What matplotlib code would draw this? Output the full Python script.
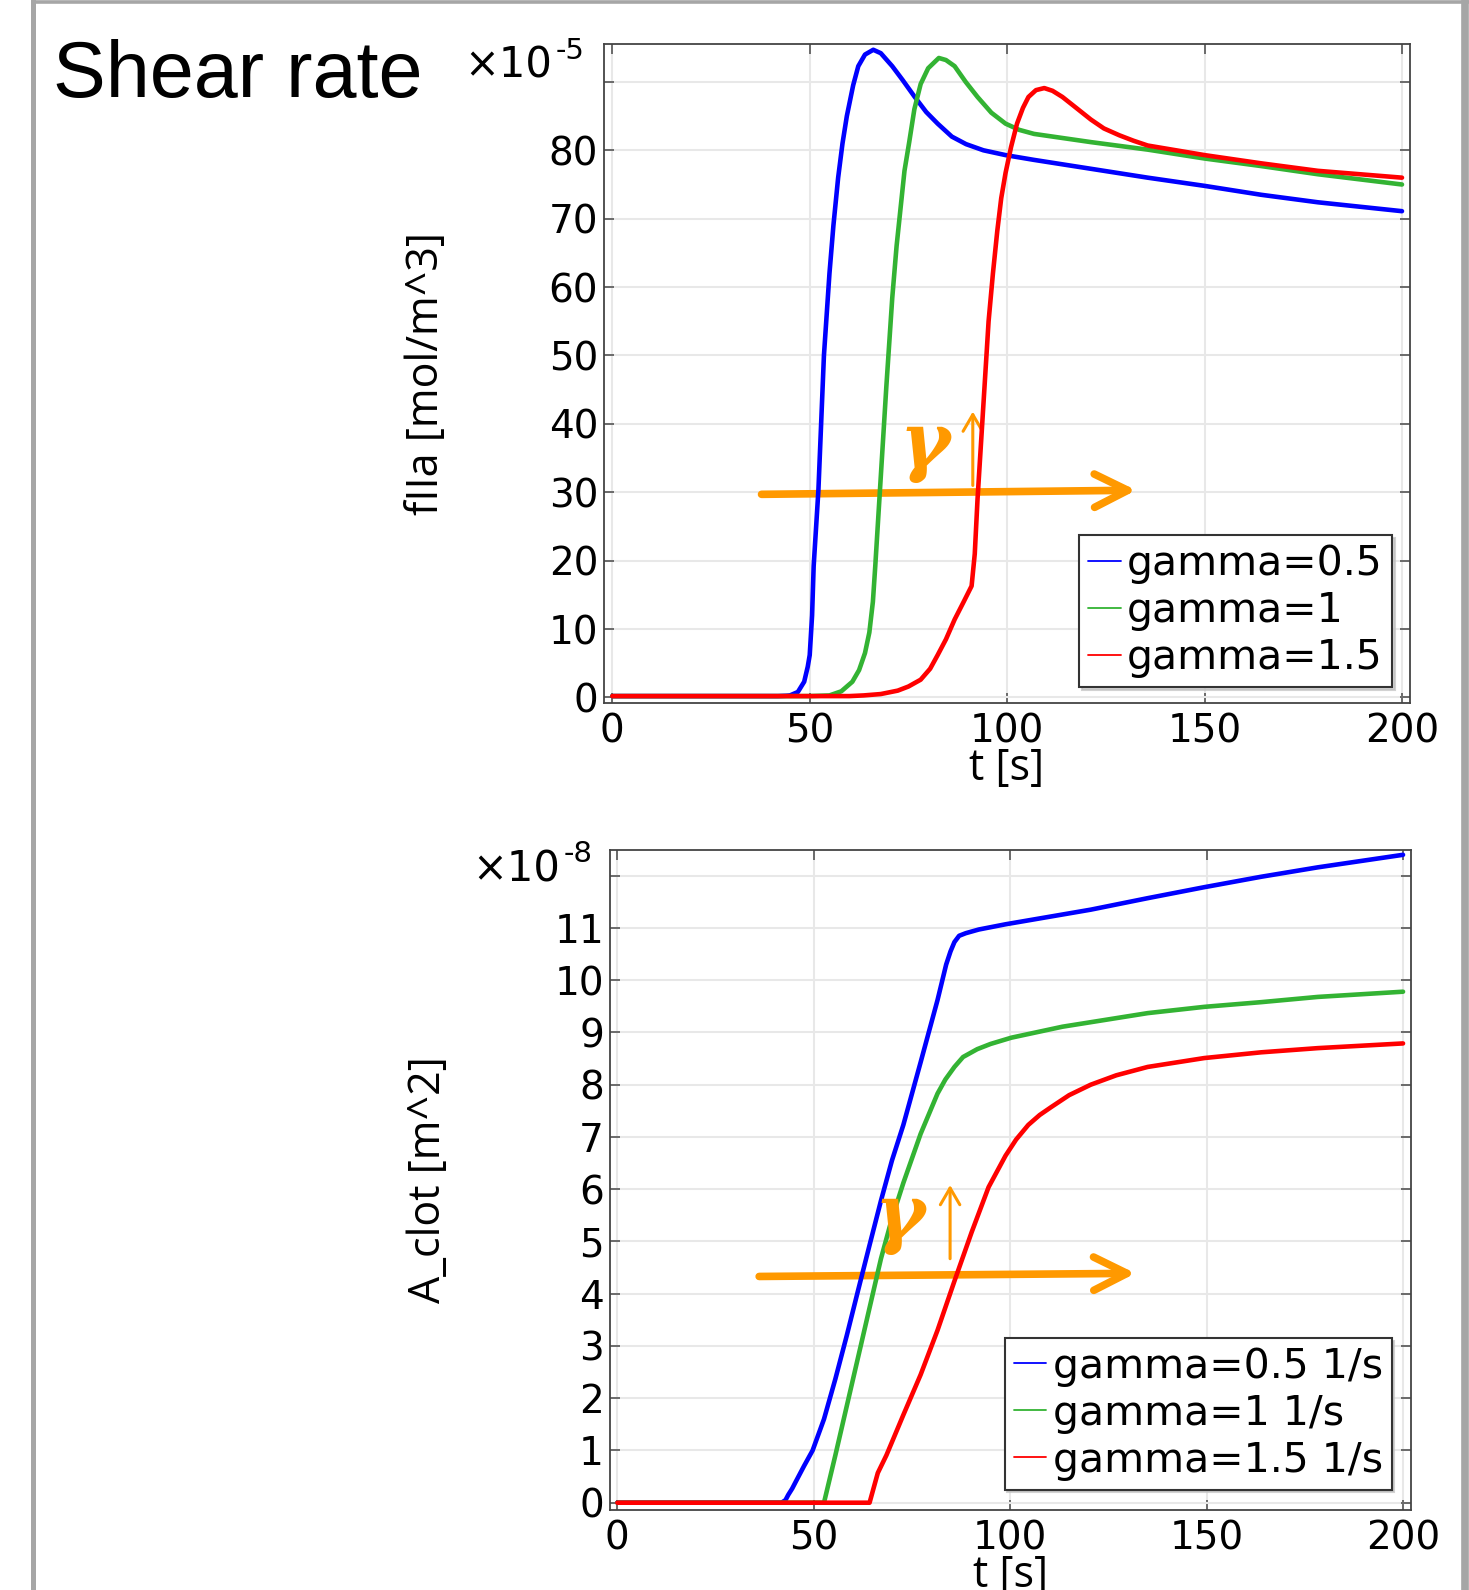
import numpy as np
import matplotlib
matplotlib.use("Agg")
import matplotlib.pyplot as plt
from matplotlib.patches import FancyArrowPatch

# ---------------- data ----------------
# top panel: fIIa [mol/m^3], values in units of 1e-5
t_top_blue = [0, 40, 42, 44, 45, 47, 48.6, 49.5, 50, 50.6, 51, 52.2, 53.6, 55, 56, 57.2, 58.3,
              59.4, 61, 62.3, 64, 66.1, 68, 70.9, 73.5, 76.6, 79.5, 82.4, 86, 89.6, 94, 99.6,
              106.8, 121.2, 135.6, 150, 164.3, 178.7, 200]
f_top_blue = [0.2, 0.2, 0.2, 0.25, 0.3, 0.8, 2.3, 4.5, 6.2, 12, 19.2, 30.3, 50, 62, 69, 76, 81,
              85, 89.5, 92.3, 94, 94.7, 94.2, 92.3, 90.3, 87.8, 85.6, 83.9, 82.0, 80.9, 80.0, 79.3,
              78.6, 77.3, 76.0, 74.8, 73.5, 72.4, 71.1]
t_top_green = [0, 50, 55, 58, 60.8, 62.5, 64, 65.1, 66, 66.6, 68, 69.4, 70.9, 72, 73, 74, 75.2,
               76.5, 78.1, 80, 82.7, 84.5, 86.7, 89.5, 92.5, 96, 99.6, 103, 106.8, 121.2, 135.6,
               150, 164.3, 178.7, 200]
f_top_green = [0.2, 0.2, 0.3, 0.9, 2.3, 4.0, 6.5, 9.5, 14, 19.2, 32.3, 45.4, 58.4, 66, 71.5, 77,
               81.2, 86, 89.7, 92, 93.5, 93.2, 92.3, 90, 87.8, 85.5, 83.9, 83.0, 82.4, 81.2, 80.1,
               78.8, 77.7, 76.5, 75.0]
t_top_red = [0, 60, 63.7, 68, 72.3, 75, 78.1, 80.5, 82.4, 84.5, 86.7, 89, 91, 91.8, 92.5, 93.9,
             95.3, 96.4, 97.5, 98.5, 99.6, 101, 102.5, 104, 105.4, 107.3, 109.4, 111.5, 114,
             117.5, 121.2, 124.5, 128.4, 132, 135.6, 150, 164.3, 178.7, 200]
f_top_red = [0.2, 0.2, 0.3, 0.5, 1.0, 1.6, 2.6, 4.2, 6.2, 8.5, 11.4, 14, 16.3, 21, 29, 42,
             55, 62, 68.2, 73, 76.7, 80.5, 83.9, 86.2, 87.8, 88.8, 89.1, 88.7, 87.8,
             86.2, 84.5, 83.2, 82.2, 81.4, 80.7, 79.3, 78.1, 77.0, 76.0]

# bottom panel: A_clot [m^2], values in units of 1e-8
t_bot_blue = [0, 41.8, 42.8, 43.5, 44.5, 45.4, 47.5, 49.7, 52.6, 55.5, 58.4, 61.3, 64.2, 67.1,
              69.9, 72.8, 77.2, 81.5, 83.7, 84.8, 85.8, 87, 88.7, 92, 98.8, 120.5, 135, 149.4,
              163.9, 178.3, 200]
a_bot_blue = [0, 0, 0.05, 0.15, 0.27, 0.4, 0.7, 1.0, 1.6, 2.37, 3.2, 4.07, 4.93, 5.78,
              6.55, 7.23, 8.43, 9.62, 10.3, 10.55, 10.73, 10.85, 10.9, 10.97, 11.07, 11.35,
              11.57, 11.78, 11.98, 12.16, 12.4]
t_bot_green = [0, 52.6, 55.5, 58.4, 61.3, 64.2, 67.1, 69.9, 72.8, 77.2, 81.5, 83.5, 85.8, 88,
               91.6, 95, 100.3, 113.3, 135, 149.4, 163.9, 178.3, 200]
a_bot_green = [0, 0, 0.91, 1.85, 2.79, 3.73, 4.67, 5.44, 6.12, 7.06, 7.83, 8.1, 8.34, 8.53,
               8.68, 8.78, 8.9, 9.11, 9.37, 9.49, 9.58, 9.68, 9.78]
t_bot_red = [0, 64.2, 66.3, 68.5, 72.8, 77.2, 81.5, 85.8, 90.2, 94.5, 98.8, 101.5, 104.6, 107.5,
             110.4, 115, 120.5, 127, 135, 149.4, 163.9, 178.3, 200]
a_bot_red = [0, 0, 0.57, 0.91, 1.68, 2.45, 3.3, 4.24, 5.18, 6.04, 6.64, 6.95, 7.23, 7.42,
             7.57, 7.8, 8.0, 8.18, 8.34, 8.51, 8.62, 8.7, 8.79]

top_labels = ["gamma=0.5", "gamma=1", "gamma=1.5"]
bot_labels = ["gamma=0.5 1/s", "gamma=1 1/s", "gamma=1.5 1/s"]
colors = ["#0000ff", "#33b333", "#ff0000"]

x_ticks = [0, 50, 100, 150, 200]
top_yticks = list(range(0, 100, 10))
top_yticklabels = [str(v) for v in range(0, 90, 10)] + [""]
bot_yticks = list(range(0, 13))
bot_yticklabels = [str(v) for v in range(0, 12)] + [""]

# ---------------- figure ----------------
W, H = 1469, 1590
fig = plt.figure(figsize=(W / 100, H / 100), dpi=100)

# grey frame (left, top, right)
frame_col = "#a6a6a6"
fig.add_artist(plt.Line2D([32.5 / W, 32.5 / W], [0, 1], color=frame_col, lw=3.6, transform=fig.transFigure))
fig.add_artist(plt.Line2D([32.5 / W, 1], [1 - 1.5 / H, 1 - 1.5 / H], color=frame_col, lw=2.6, transform=fig.transFigure))
fig.add_artist(plt.Line2D([1465 / W, 1465 / W], [0, 1], color=frame_col, lw=5.5, transform=fig.transFigure))

fig.text(53 / W, 1 - 97 / H, "Shear rate", fontsize=57, family="Liberation Sans",
         ha="left", va="baseline", color="black")

ax1 = fig.add_axes([603.8 / W, 1 - 702.8 / H, (1409.7 - 603.8) / W, (702.8 - 44.3) / H])
ax2 = fig.add_axes([609.5 / W, 1 - 1509.5 / H, (1410.9 - 609.5) / W, (1509.5 - 850.1) / H])

tick_fs = 28
lab_fs = 31


def style(ax, yticks, yticklabels, xlim, ylim):
    ax.set_xlim(*xlim)
    ax.set_ylim(*ylim)
    ax.set_xticks(x_ticks)
    ax.set_xticklabels([str(v) for v in x_ticks], family="DejaVu Sans", fontsize=tick_fs)
    ax.set_yticks(yticks)
    ax.set_yticklabels(yticklabels, family="DejaVu Sans", fontsize=tick_fs)
    ax.grid(True, color="#e8e8e8", lw=1.5)
    ax.set_axisbelow(True)
    ax.tick_params(direction="in", length=7, width=1.2, color="#555555",
                   top=True, right=True)
    ax.tick_params(axis="x", pad=7)
    ax.tick_params(axis="y", pad=4)
    for s in ax.spines.values():
        s.set_color("#444444")
        s.set_linewidth(1.3)


def offset_text(x, y, exp):
    fig.text(x / W, 1 - y / H, "×10", fontsize=30, family="DejaVu Sans",
             ha="left", va="baseline")
    fig.text((x + 92) / W, 1 - (y - 19) / H, exp, fontsize=21, family="DejaVu Sans",
             ha="left", va="baseline")


# top panel
for t, f, c, lab in zip([t_top_blue, t_top_green, t_top_red],
                        [f_top_blue, f_top_green, f_top_red], colors, top_labels):
    ax1.plot(t, f, color=c, lw=3.3, label=lab, solid_capstyle="round", solid_joinstyle="round")
style(ax1, top_yticks, top_yticklabels, (-2.15, 201.95), (-0.78, 95.5))
ax1.set_xlabel("t [s]", family="Open Sans", fontsize=lab_fs, labelpad=-3)
ax1.set_ylabel("fIIa [mol/m^3]", family="Open Sans", fontsize=lab_fs)
ax1.yaxis.set_label_coords(-0.192, 0.5)
offset_text(464, 78, "-5")

# bottom panel
for t, a, c, lab in zip([t_bot_blue, t_bot_green, t_bot_red],
                        [a_bot_blue, a_bot_green, a_bot_red], colors, bot_labels):
    ax2.plot(t, a, color=c, lw=3.3, label=lab, solid_capstyle="round", solid_joinstyle="round")
style(ax2, bot_yticks, bot_yticklabels, (-2.0, 202.0), (-0.13, 12.49))
ax2.set_xlabel("t [s]", family="Open Sans", fontsize=lab_fs, labelpad=-3)
ax2.set_ylabel("A_clot [m^2]", family="Open Sans", fontsize=lab_fs)
ax2.yaxis.set_label_coords(-0.198, 0.5)
offset_text(472, 881, "-8")

# legends
for ax, anchor in [(ax1, (0.978, 0.024)), (ax2, (0.976, 0.030))]:
    leg = ax.legend(loc="lower right", bbox_to_anchor=anchor, borderaxespad=0,
                    prop={"family": "DejaVu Sans", "size": 29.5}, handlelength=0.8,
                    handletextpad=0.15, labelspacing=0.17, borderpad=0.22,
                    fancybox=False, framealpha=1, edgecolor="#333333",
                    shadow={"color": "0.75", "alpha": 0.7})
    leg.get_frame().set_linewidth(1.5)
    for ln in leg.get_lines():
        ln.set_linewidth(1.3)

# orange annotations
orange = "#ff9900"


def annotate(ax, x0, y0, x1, y1, gx, gy, ux, uy0, uy1):
    arr = FancyArrowPatch((x0, y0), (x1, y1), arrowstyle="->,head_length=1.2,head_width=0.6",
                          color=orange, lw=5.5, mutation_scale=20, shrinkA=0, shrinkB=0,
                          capstyle="round", joinstyle="round")
    ax.add_patch(arr)
    ax.text(gx, gy, "γ", color=orange, fontsize=55, family="DejaVu Serif",
            fontweight="bold", fontstyle="italic", ha="center", va="center")
    up = FancyArrowPatch((ux, uy0), (ux, uy1), arrowstyle="->,head_length=0.6,head_width=0.35",
                         color=orange, lw=2.2, mutation_scale=20, shrinkA=0, shrinkB=0)
    ax.add_patch(up)


annotate(ax1, 37.8, 29.7, 132.7, 30.3, 79.0, 36.8, 91.3, 31.0, 41.8)
annotate(ax2, 36.1, 4.33, 131.9, 4.39, 71.8, 5.45, 84.7, 4.67, 6.08)

fig.savefig("out.png", dpi=100)
